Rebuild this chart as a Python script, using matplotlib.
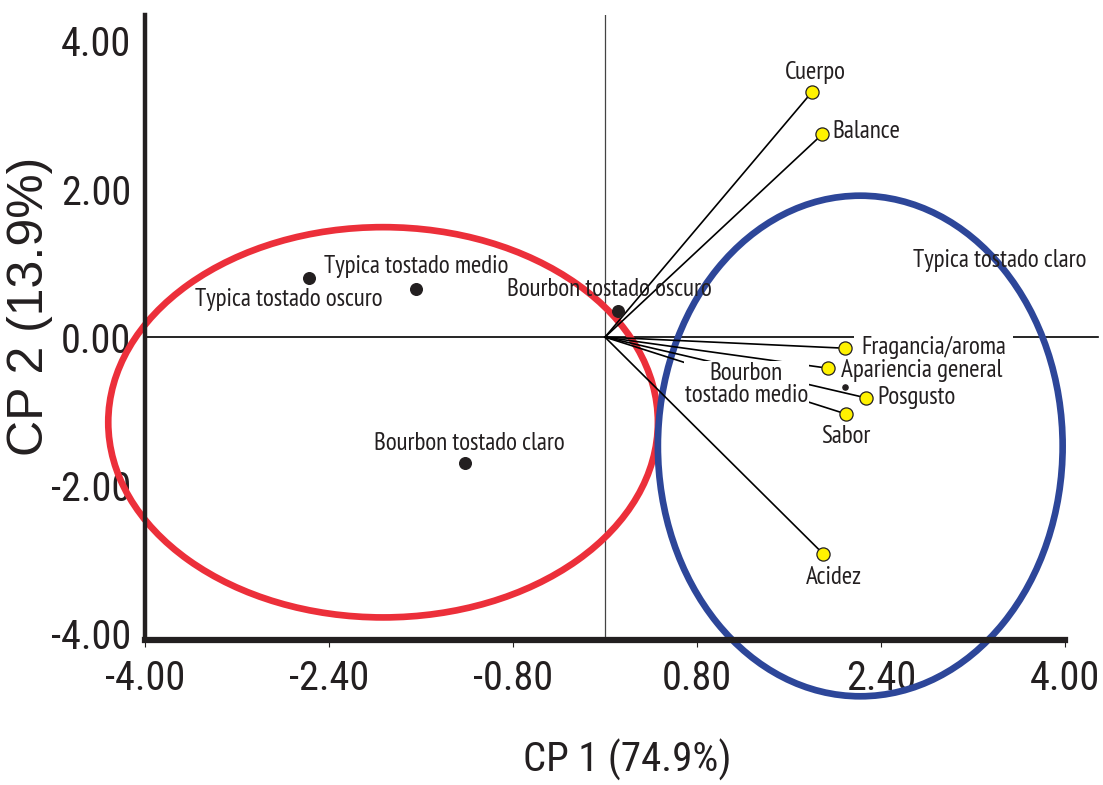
import numpy as np
import matplotlib
matplotlib.use("Agg")
import matplotlib.pyplot as plt
from matplotlib.patches import Ellipse

# ── 데이터 ──────────────────────────────────────
var_names = ["Cuerpo", "Balance", "Fragancia/aroma", "Apariencia general",
             "Posgusto", "Sabor", "Acidez"]
var_x = [1.80, 1.89, 2.09, 1.94, 2.27, 2.10, 1.90]
var_y = [3.31, 2.74, -0.15, -0.42, -0.82, -1.04, -2.93]

obs_names = ["Typica tostado oscuro", "Typica tostado medio", "Bourbon tostado oscuro",
             "Bourbon tostado claro", "Bourbon\ntostado medio", "Typica tostado claro"]
obs_x = [-2.57, -1.64, 0.11, -1.22, 2.09]
obs_y = [0.80, 0.65, 0.35, -1.70, -0.68]

x_ticks = [-4.00, -2.40, -0.80, 0.80, 2.40, 4.00]
y_ticks = [-4.00, -2.00, 0.00, 2.00, 4.00]

# 그룹 타원 (중심 x, 중심 y, 폭, 높이)
red_group = (-1.93, -1.15, 4.78, 5.27)
blue_group = (2.22, -1.47, 3.52, 6.76)

TXT = "#231f20"
LABEL_FONT = ["PT Sans Narrow", "Liberation Sans", "DejaVu Sans"]
TICK_FONT = ["Roboto Condensed", "Archivo Narrow", "Liberation Sans", "DejaVu Sans"]
REGULAR = ["Liberation Sans", "DejaVu Sans"]

fig = plt.figure(figsize=(11.03, 7.85), dpi=100)
ax = fig.add_axes([0.1315, 0.1847, 0.834, 0.7962])
ax.set_xlim(-4, 4)
ax.set_ylim(-4.09, 4.35)

# 축선
ax.axvline(0, color="#444444", linewidth=0.9, zorder=1)
ax.plot([-4, 4.29], [0, 0], color="black", linewidth=1.2, clip_on=False, zorder=1)

# 타원
for (cx, cy, w, h), col in [(red_group, "#ec2f3a"), (blue_group, "#2d4699")]:
    ax.add_patch(Ellipse((cx, cy), w, h, fill=False, edgecolor=col,
                         linewidth=4.8, clip_on=False, zorder=2))

# 벡터
for vx, vy in zip(var_x, var_y):
    ax.plot([0, vx], [0, vy], color="black", linewidth=1.2, zorder=3)
ax.scatter(var_x, var_y, s=90, color="#fff200", edgecolor=TXT, linewidth=0.9, zorder=6)

# 관측치
ax.scatter(obs_x[:4], obs_y[:4], s=70, color=TXT, zorder=6)
ax.scatter(obs_x[4:], obs_y[4:], s=14, color=TXT, zorder=6)

fs = 18
kw = dict(fontsize=fs, color=TXT, family=LABEL_FONT, zorder=7)

# 변수 라벨
ax.text(1.83, 3.57, var_names[0], ha="center", va="center", **kw)
ax.text(1.98, 2.77, var_names[1], ha="left", va="center", **kw)
ax.text(2.23, -0.14, var_names[2], ha="left", va="center",
        bbox=dict(facecolor="white", edgecolor="none", pad=5), **kw)
ax.text(2.05, -0.45, var_names[3], ha="left", va="center", **kw)
ax.text(2.37, -0.82, var_names[4], ha="left", va="center", **kw)
ax.text(2.09, -1.34, var_names[5], ha="center", va="center", **kw)
ax.text(1.99, -3.24, var_names[6], ha="center", va="center", **kw)

# 관측치 라벨
ax.text(-2.75, 0.51, obs_names[0], ha="center", va="center", **kw)
ax.text(-1.64, 0.95, obs_names[1], ha="center", va="center", **kw)
ax.text(0.04, 0.64, obs_names[2], ha="center", va="center", **kw)
ax.text(-1.18, -1.43, obs_names[3], ha="center", va="center", **kw)
ax.text(1.23, -0.64, obs_names[4], ha="center", va="center", linespacing=0.95,
        bbox=dict(facecolor="white", edgecolor="none", pad=0.5), **kw)
ax.text(3.43, 1.03, obs_names[5], ha="center", va="center", **kw)

# 스파인 / 눈금
for s in ["top", "right"]:
    ax.spines[s].set_visible(False)
ax.spines["left"].set_linewidth(3.2)
ax.spines["bottom"].set_linewidth(4.5)
ax.spines["left"].set_color(TXT)
ax.spines["bottom"].set_color(TXT)

ax.set_xticks(x_ticks)
ax.set_xticklabels([f"{v:.2f}" for v in x_ticks], family=TICK_FONT, fontsize=29, color=TXT)
ax.set_yticks(y_ticks)
ax.set_yticklabels([f"{v:.2f}" for v in y_ticks], family=TICK_FONT, fontsize=29, color=TXT)
ax.tick_params(axis="x", length=5, width=0.8, pad=9, color=TXT)
ax.tick_params(axis="y", length=0, pad=10)

fig.text(627 / 1103, 1 - 760 / 785, "CP 1 (74.9%)", family=TICK_FONT, fontsize=29.5,
         color=TXT, ha="center", va="center")
fig.text(30 / 1103, 1 - 306 / 785, "CP 2 (13.9%)", family=REGULAR, fontsize=36,
         color=TXT, ha="center", va="center", rotation=90)

plt.savefig("out.png", dpi=100)
